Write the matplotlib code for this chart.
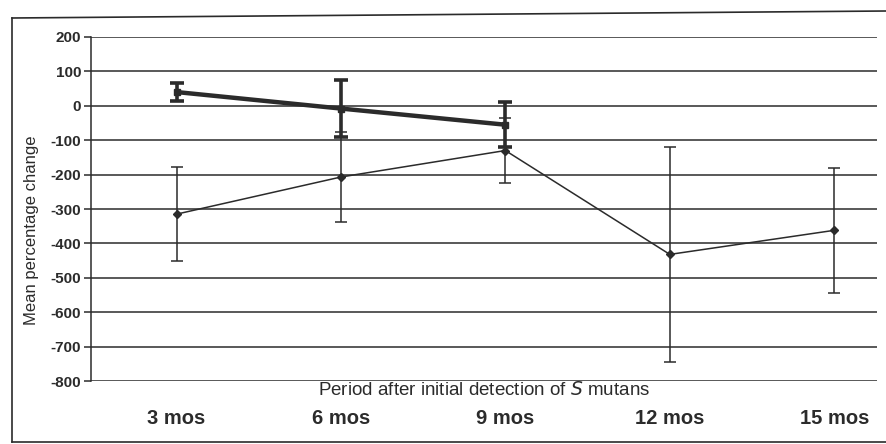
import matplotlib.pyplot as plt
from matplotlib.lines import Line2D

plt.rcParams['font.family'] = ['Liberation Sans', 'DejaVu Sans']

# categories and values
periods = ["3 mos", "6 mos", "9 mos", "12 mos", "15 mos"]
ticks_y = [200, 100, 0, -100, -200, -300, -400, -500, -600, -700, -800]

# thick series (only the first three periods)
thick_mean = [40, -8, -55]
thick_err = [25, 83, 65]

# thin series
thin_mean = [-315, -207, -130, -432, -362]
thin_err = [137, 130, 95, 313, 182]

ink = "#2b2b2b"

fig = plt.figure(figsize=(8.86, 4.44), dpi=100)
fig.patch.set_facecolor("white")
ax = fig.add_axes([91 / 886, 1 - 381 / 444, (877 - 91) / 886, 344 / 444])

x_all = list(range(len(periods)))

# thin series first so the thick one sits on top
ax.errorbar(x_all, thin_mean, yerr=thin_err, color=ink, lw=1.1, marker="D",
            markersize=4, capsize=4, elinewidth=1.1, capthick=1.1, zorder=3)
ax.errorbar(x_all[:3], thick_mean, yerr=thick_err, color=ink, lw=3.2, marker="s",
            markersize=5, capsize=5, elinewidth=2.6, capthick=2.6, zorder=4)

ax.set_ylim(-800, 200)
ax.set_xlim(-0.52, 4.26)
ax.set_yticks(ticks_y)
ax.set_yticklabels([str(t) for t in ticks_y], fontsize=11, fontweight="bold", color=ink)
ax.yaxis.grid(True, color=ink, lw=1.1)
ax.set_axisbelow(True)
ax.tick_params(axis="y", length=5, width=1.1, color=ink, pad=2)

ax.set_xticks(x_all)
ax.set_xticklabels(periods, fontsize=14.5, fontweight="bold", color=ink)
ax.tick_params(axis="x", length=0, pad=20)

for s in ["top", "right", "bottom"]:
    ax.spines[s].set_visible(False)
ax.spines["left"].set_color(ink)
ax.spines["left"].set_linewidth(1.1)

ax.set_ylabel("Mean percentage change", fontsize=12, color=ink)
ax.yaxis.set_label_coords(-(91 - 39) / 786, 1 - (230 - 37) / 344)
ax.text(0.5, -0.027, "Period after initial detection of $\\it{S}$ mutans",
        transform=ax.transAxes, ha="center", va="center", fontsize=13.5, color=ink)

# outer frame of the original figure
fig.add_artist(Line2D([12 / 886, 12 / 886], [1 - 442 / 444, 1 - 18 / 444],
                      color=ink, lw=1.2, transform=fig.transFigure))
fig.add_artist(Line2D([12 / 886, 1], [1 - 18 / 444, 1 - 11 / 444],
                      color=ink, lw=1.2, transform=fig.transFigure))
fig.add_artist(Line2D([12 / 886, 1], [1 - 442 / 444, 1 - 442 / 444],
                      color=ink, lw=1.2, transform=fig.transFigure))

fig.savefig("out.png", dpi=100)
